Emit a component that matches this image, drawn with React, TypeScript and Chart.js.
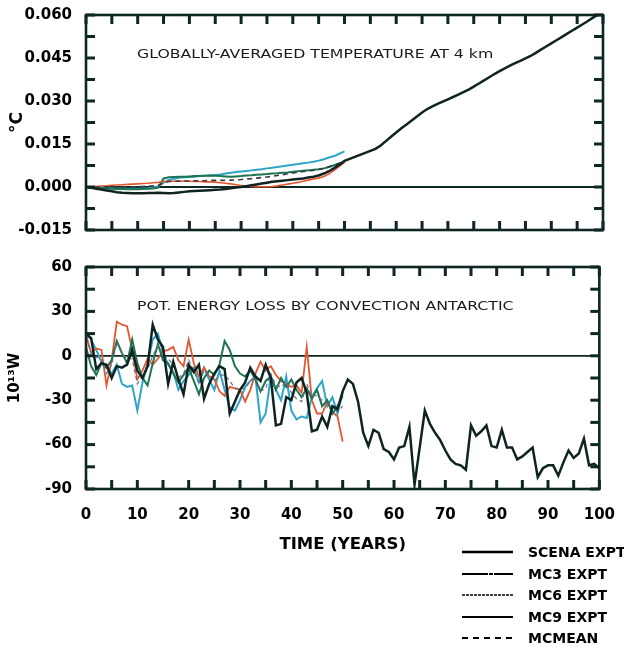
import React, { useEffect, useRef } from "react";
import { Chart, registerables } from "chart.js";

Chart.register(...registerables);

// ---------- DATA ----------
const TOP_LABEL = "GLOBALLY-AVERAGED TEMPERATURE AT 4 km";
const BOTTOM_LABEL = "POT. ENERGY LOSS BY CONVECTION ANTARCTIC";
const X_TITLE = "TIME (YEARS)";
const TOP_Y_TITLE = "°C";
const BOTTOM_Y_TITLE = "10¹³W";
const SERIES_NAMES = ["SCENA EXPT", "MC3 EXPT", "MC6 EXPT", "MC9 EXPT", "MCMEAN"];

// tick-mark positions (years / axis values)
const X_MARKS = [0, 5, 10, 15, 20, 25, 30, 35, 40, 45, 50, 55, 60, 65, 70, 75, 80, 85, 90, 95, 100];
const TOP_Y_MARKS = [-0.015, -0.0075, 0, 0.0075, 0.015, 0.0225, 0.03, 0.0375, 0.045, 0.0525, 0.06];
const BOT_Y_MARKS = [-90, -75, -60, -45, -30, -15, 0, 15, 30, 45, 60];

// Top panel: globally-averaged temperature at 4 km (°C), one value per year
const TOP_SCENA = [
  0, -0.0003, -0.0006, -0.0009, -0.0012, -0.0015, -0.0018, -0.002, -0.0021, -0.0022,
  -0.0022, -0.0022, -0.0021, -0.0021, -0.002, -0.0021, -0.0022, -0.0021, -0.0019, -0.0017,
  -0.0015, -0.0014, -0.0013, -0.0012, -0.0011, -0.001, -0.0009, -0.0007, -0.0004, -0.0002,
  0.0, 0.0003, 0.0006, 0.0009, 0.0012, 0.0015, 0.0018, 0.002, 0.0022, 0.0024,
  0.0026, 0.0028, 0.003, 0.0033, 0.0036, 0.004, 0.0047, 0.0055, 0.0066, 0.0078,
  0.0091, 0.0098, 0.0105, 0.0112, 0.0119, 0.0126, 0.0133, 0.0145, 0.016, 0.0175,
  0.019, 0.0205, 0.0218, 0.0232, 0.0246, 0.026, 0.0272, 0.0281, 0.029, 0.0298,
  0.0306, 0.0314, 0.0322, 0.0331, 0.034, 0.035, 0.0361, 0.0372, 0.0383, 0.0394,
  0.0404, 0.0414, 0.0423, 0.0432, 0.044, 0.0449, 0.0457, 0.0468, 0.0479, 0.049,
  0.0501, 0.0512, 0.0523, 0.0534, 0.0545, 0.0556, 0.0567, 0.0578, 0.059, 0.0601,
  0.0612,
];
const TOP_MC3 = [
  0, 0.0001, 0.0002, 0.0003, 0.0004, 0.0006, 0.0007, 0.0008, 0.0009, 0.001,
  0.0011, 0.0012, 0.0013, 0.0015, 0.0016, 0.0019, 0.002, 0.002, 0.0021, 0.002,
  0.002, 0.0019, 0.0019, 0.0018, 0.0018, 0.0017, 0.0015, 0.0013, 0.0011, 0.0008,
  0.0005, 0.0003, 0.0002, 0.0001, 0.0001, 0.0001, 0.0002, 0.0004, 0.0007, 0.001,
  0.0013, 0.0016, 0.002, 0.0024, 0.0028, 0.0031, 0.0037, 0.0046, 0.0058, 0.0072,
  0.0086,
];
const TOP_MC6 = [
  0, -0.0002, -0.0003, -0.0004, -0.0005, -0.0006, -0.0007, -0.0007, -0.0008, -0.0008,
  -0.0008, -0.0007, -0.0006, -0.0005, -0.0002, 0.003, 0.0034, 0.0035, 0.0036, 0.0036,
  0.0037, 0.0038, 0.0038, 0.0039, 0.004, 0.0039, 0.0038, 0.0037, 0.0036, 0.0037,
  0.0038, 0.004, 0.0041, 0.0043, 0.0044, 0.0045, 0.0047, 0.0048, 0.005, 0.0051,
  0.0053, 0.0055, 0.0057, 0.0058, 0.006, 0.0062, 0.0065, 0.007, 0.0076, 0.0082,
  0.0088,
];
const TOP_MC9 = [
  0, -0.0001, -0.0002, -0.0003, -0.0004, -0.0004, -0.0005, -0.0005, -0.0006, -0.0006,
  -0.0006, -0.0005, -0.0004, -0.0002, 0.0003, 0.0015, 0.0025, 0.0029, 0.0032, 0.0034,
  0.0035, 0.0036, 0.0038, 0.0039, 0.004, 0.0042, 0.0044, 0.0047, 0.005, 0.0052,
  0.0054, 0.0056, 0.0058, 0.006, 0.0062, 0.0065, 0.0067, 0.007, 0.0072, 0.0075,
  0.0078, 0.008, 0.0083, 0.0085, 0.0088, 0.0092, 0.0097, 0.0103, 0.0108, 0.0116,
  0.0124,
];
const TOP_MEAN = [
  0, 0, 0, 0, 0, 0, 0, 0, 0.0001, 0.0001,
  0.0001, 0.0002, 0.0003, 0.0004, 0.0006, 0.0014, 0.0019, 0.002, 0.0021, 0.0021,
  0.0021, 0.0022, 0.0022, 0.0022, 0.0023, 0.0023, 0.0023, 0.0023, 0.0024, 0.0025,
  0.0026, 0.0028, 0.0029, 0.0031, 0.0033, 0.0035, 0.0037, 0.004, 0.0043, 0.0046,
  0.0049, 0.0051, 0.0054, 0.0056, 0.0058, 0.0061, 0.0065, 0.0071, 0.0077, 0.0083,
  0.009,
];

// Bottom panel: potential energy loss by convection, Antarctic (10^13 W)
const BOT_SCENA = [
  15, 12, -9, -5, -6, -15, -7, -8, -6, 4,
  -10, -15, -7, 21, 11, 6, -19, -4, -16, -26,
  -6, -11, -6, -29, -19, -12, -7, -9, -39, -31,
  -23, -18, -8, -14, -17, -6, -15, -47, -46, -28,
  -30, -18, -15, -25, -51, -50, -41, -48, -34, -36,
  -24, -16, -19, -31, -52, -61, -50, -52, -63, -65,
  -70, -62, -61, -48, -87, -62, -37, -46, -52, -57,
  -64, -70, -73, -74, -77, -47, -54, -51, -47, -61,
  -62, -50, -62, -62, -70, -68, -65, -62, -82, -76,
  -74, -74, -81, -72, -64, -69, -66, -56, -74, -73,
  -76,
];
const BOT_MC3 = [
  14, 2, 5, 4, -20, -3, 23, 21, 20, 4,
  -16, -10, -2, -6, -2, 3, 4, 6, -3, -7,
  11, -5, -14, -8, -14, -16, -24, -27, -21, -22,
  -23, -31, -23, -12, -4, -10, -7, -13, -17, -19,
  -21, -20, -25, 6, -30, -39, -39, -31, -38, -41,
  -58,
];
const BOT_MC6 = [
  6, -7, -13, -5, -8, -3, 10, 2, -5, 11,
  -5, -15, -20, -5, 8, -3, -5, -12, -18, -13,
  -8, -17, -26, -15, -10, -13, -6, 10, 4, -7,
  -12, -14, -10, -16, -24, -17, -14, -23, -15, -21,
  -16, -23, -28, -22, -29, -23, -34, -30, -39, -34,
  -27,
];
const BOT_MC9 = [
  15, 11, 4, -4, -8, -12, -6, -19, -21, -20,
  -37, -18, -5, 11, 15, 2, -6, -11, -23, -17,
  -13, -8, -18, -8, -16, -23, -10, -23, -35, -37,
  -30, -21, -17, -14, -45, -39, -14, -23, -30, -14,
  -37, -43, -41, -42, -28, -22, -17, -34, -28, -39,
  -25,
];
const BOT_MEAN = [
  12, 2, -1, -2, -12, -6, 9, 1, -2, -2,
  -19, -14, -9, 0, 7, 1, -2, -6, -15, -12,
  -3, -10, -19, -10, -13, -17, -13, -13, -17, -22,
  -22, -22, -17, -14, -24, -22, -12, -20, -21, -18,
  -25, -29, -31, -19, -27, -27, -30, -32, -35, -38,
  -34,
];

// ---------- STYLE ----------
const FONT = "'DejaVu Sans', sans-serif";
const FRAME = "#0e2725";
const C_BLACK = "#0f2422";
const C_RED = "#e4572e";
const C_GREEN = "#1c7552";
const C_CYAN = "#2ea4c8";

const toXY = (arr: number[]) => arr.map((v, i) => ({ x: i, y: v }));

function makeFramePlugin(yMarks: number[], label: string) {
  return {
    id: "frameTicks",
    beforeDatasetsDraw(chart: any) {
      const { ctx, chartArea: a, scales } = chart;
      const py = scales.y.getPixelForValue(0);
      ctx.save();
      ctx.setLineDash([]);
      ctx.strokeStyle = FRAME;
      ctx.lineWidth = 1.8;
      ctx.beginPath();
      ctx.moveTo(a.left, py);
      ctx.lineTo(a.right, py);
      ctx.stroke();
      ctx.restore();
    },
    afterDraw(chart: any) {
      const { ctx, chartArea: a, scales } = chart;
      const len = 9;
      const w = 3;
      ctx.save();
      ctx.setLineDash([]);
      ctx.strokeStyle = FRAME;
      ctx.lineWidth = 2.6;
      ctx.strokeRect(a.left, a.top, a.right - a.left, a.bottom - a.top);
      ctx.fillStyle = FRAME;
      for (const v of X_MARKS) {
        const px = scales.x.getPixelForValue(v);
        ctx.fillRect(px - w / 2, a.bottom - len, w, len);
        ctx.fillRect(px - w / 2, a.top, w, len);
      }
      for (const v of yMarks) {
        const py = scales.y.getPixelForValue(v);
        ctx.fillRect(a.left, py - w / 2, len, w);
        ctx.fillRect(a.right - len, py - w / 2, len, w);
      }
      ctx.fillStyle = "#1a1a1a";
      ctx.font = `13px ${FONT}`;
      ctx.textBaseline = "middle";
      ctx.textAlign = "left";
      ctx.translate(a.left + 51, a.top + 40);
      ctx.scale(1.21, 1);
      ctx.fillText(label, 0, 0);
      ctx.restore();
    },
  };
}

const tickFont = { family: FONT, size: 15, weight: "bold" as const };

function topConfig(): any {
  return {
    type: "line",
    data: {
      datasets: [
        { label: SERIES_NAMES[0], data: toXY(TOP_SCENA), borderColor: C_BLACK, borderWidth: 2.5 },
        { label: SERIES_NAMES[4], data: toXY(TOP_MEAN), borderColor: "#3a3a44", borderWidth: 1.6, borderDash: [5, 4] },
        { label: SERIES_NAMES[1], data: toXY(TOP_MC3), borderColor: C_RED, borderWidth: 1.6 },
        { label: SERIES_NAMES[2], data: toXY(TOP_MC6), borderColor: C_GREEN, borderWidth: 2 },
        { label: SERIES_NAMES[3], data: toXY(TOP_MC9), borderColor: C_CYAN, borderWidth: 2 },
      ],
    },
    options: {
      responsive: false,
      animation: false,
      layout: { padding: { top: 12, right: 21, bottom: 11, left: 0 } },
      elements: { point: { radius: 0 }, line: { tension: 0 } },
      plugins: {
        legend: { display: false },
        tooltip: { enabled: false },
      },
      scales: {
        x: { type: "linear", min: 0, max: 100, display: false },
        y: {
          min: -0.015,
          max: 0.06,
          afterFit: (s: any) => {
            s.width = 86;
          },
          grid: { display: false },
          border: { display: false },
          ticks: {
            stepSize: 0.015,
            padding: 6,
            color: "#000",
            font: tickFont,
            callback: (v: any) => (Math.abs(v) < 1e-9 ? 0 : Number(v)).toFixed(3),
          },
          title: {
            display: true,
            text: TOP_Y_TITLE,
            color: "#000",
            font: { family: FONT, size: 17, weight: "bold" },
            padding: { top: 7, bottom: 0 },
          },
        },
      },
    },
    plugins: [makeFramePlugin(TOP_Y_MARKS, TOP_LABEL)],
  };
}

function bottomConfig(): any {
  return {
    type: "line",
    data: {
      datasets: [
        { label: SERIES_NAMES[0], data: toXY(BOT_SCENA), borderColor: C_BLACK, borderWidth: 2.5 },
        { label: SERIES_NAMES[4], data: toXY(BOT_MEAN), borderColor: "#6f6a88", borderWidth: 1.2, borderDash: [4, 3] },
        { label: SERIES_NAMES[2], data: toXY(BOT_MC6), borderColor: C_GREEN, borderWidth: 2 },
        { label: SERIES_NAMES[1], data: toXY(BOT_MC3), borderColor: C_RED, borderWidth: 1.8 },
        { label: SERIES_NAMES[3], data: toXY(BOT_MC9), borderColor: C_CYAN, borderWidth: 2 },
      ],
    },
    options: {
      responsive: false,
      animation: false,
      layout: { padding: { top: 22, right: 21, bottom: 6, left: 0 } },
      elements: { point: { radius: 0 }, line: { tension: 0 } },
      plugins: {
        legend: { display: false },
        tooltip: { enabled: false },
      },
      scales: {
        x: {
          type: "linear",
          min: 0,
          max: 100,
          afterFit: (s: any) => {
            s.height = 70;
          },
          grid: { display: false },
          border: { display: false },
          ticks: { stepSize: 10, padding: 9, color: "#000", font: tickFont, maxRotation: 0, autoSkip: false },
          title: {
            display: true,
            text: X_TITLE,
            color: "#000",
            font: { family: FONT, size: 16.5, weight: "bold" },
            padding: { top: 0, bottom: 4 },
          },
        },
        y: {
          min: -90,
          max: 60,
          afterFit: (s: any) => {
            s.width = 86;
          },
          grid: { display: false },
          border: { display: false },
          ticks: { stepSize: 30, padding: 6, color: "#000", font: tickFont },
          title: {
            display: true,
            text: BOTTOM_Y_TITLE,
            color: "#000",
            font: { family: FONT, size: 15, weight: "bold" },
            padding: { top: 6, bottom: 0 },
          },
        },
      },
    },
    plugins: [makeFramePlugin(BOT_Y_MARKS, BOTTOM_LABEL)],
  };
}

function ChartCanvas({ make, top, height }: { make: () => any; top: number; height: number }) {
  const ref = useRef<HTMLCanvasElement>(null);
  useEffect(() => {
    const chart = new Chart(ref.current as HTMLCanvasElement, make());
    return () => chart.destroy();
  }, [make]);
  return (
    <canvas
      ref={ref}
      width={624}
      height={height}
      style={{ position: "absolute", left: 0, top, width: 624, height }}
    />
  );
}

const LEGEND_STYLES = [
  { width: 2.6, dash: "" },
  { width: 2, dash: "26 1 4 1 19" },
  { width: 1.5, dash: "3 1" },
  { width: 2.2, dash: "" },
  { width: 2, dash: "6 5" },
];
const LEGEND_ROWS_Y = [552, 573.5, 595, 616.5, 638];

function Legend() {
  return (
    <>
      {SERIES_NAMES.map((name, i) => (
        <div
          key={name}
          style={{
            position: "absolute",
            left: 462,
            top: LEGEND_ROWS_Y[i] - 10,
            height: 20,
            display: "flex",
            alignItems: "center",
            whiteSpace: "nowrap",
          }}
        >
          <svg width={51} height={20} style={{ display: "block" }}>
            <line
              x1={0}
              y1={10}
              x2={51}
              y2={10}
              stroke="#000"
              strokeWidth={LEGEND_STYLES[i].width}
              strokeDasharray={LEGEND_STYLES[i].dash || undefined}
            />
          </svg>
          <span
            style={{
              marginLeft: 15,
              fontFamily: FONT,
              fontWeight: "bold",
              fontSize: 14,
              color: "#000",
              lineHeight: "20px",
            }}
          >
            {name}
          </span>
        </div>
      ))}
    </>
  );
}

export default function App() {
  return (
    <div
      style={{
        position: "absolute",
        left: 0,
        top: 0,
        width: 624,
        height: 650,
        background: "#ffffff",
        overflow: "hidden",
      }}
    >
      <ChartCanvas make={topConfig} top={0} height={245} />
      <ChartCanvas make={bottomConfig} top={245} height={320} />
      <Legend />
    </div>
  );
}
